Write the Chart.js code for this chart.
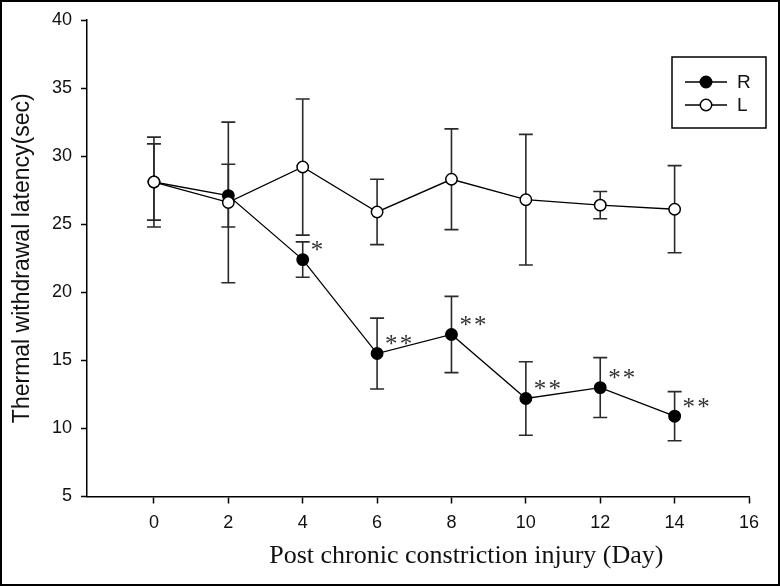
<!DOCTYPE html>
<html>
<head>
<meta charset="utf-8">
<script src="https://cdn.jsdelivr.net/npm/chart.js@4/dist/chart.umd.min.js"></script>
<style>
  html, body { margin: 0; padding: 0; background: #fff; }
  canvas { display: block; }
</style>
</head>
<body>
<canvas id="c" width="780" height="586"></canvas>
<script>
// ---- data ----
const days = [0, 2, 4, 6, 8, 10, 12, 14];
const rMean = [28.1, 27.1, 22.4, 15.5, 16.9, 12.2, 13.0, 10.9];
const rErr  = [2.8, 2.3, 1.3, 2.6, 2.8, 2.7, 2.2, 1.8];
const lMean = [28.1, 26.6, 29.2, 25.9, 28.3, 26.8, 26.4, 26.1];
const lErr  = [3.3, 5.9, 5.0, 2.4, 3.7, 4.8, 1.0, 3.2];
const rSig  = ['', '', '*', '**', '**', '**', '**', '**'];
const xTicks = [0, 2, 4, 6, 8, 10, 12, 14, 16];
const yTicks = [5, 10, 15, 20, 25, 30, 35, 40];
const xTitle = 'Post chronic constriction injury (Day)';
const yTitle = 'Thermal withdrawal latency(sec)';

const SANS = '"Liberation Sans", Arial, sans-serif';
const SERIF = '"Liberation Serif", "Times New Roman", serif';

const toPts = (m) => days.map((d, i) => ({ x: d, y: m[i] }));

const framePlugin = {
  id: 'frame',
  beforeDraw(chart) {
    const ctx = chart.ctx;
    ctx.save();
    ctx.fillStyle = '#fff';
    ctx.fillRect(0, 0, chart.width, chart.height);
    ctx.restore();
  },
  afterDraw(chart) {
    const ctx = chart.ctx;
    ctx.save();
    ctx.strokeStyle = '#000';
    ctx.lineWidth = 2;
    ctx.strokeRect(1, 1, chart.width - 2, chart.height - 2);
    // axis titles
    const ca = chart.chartArea;
    ctx.fillStyle = '#111';
    ctx.font = '26px ' + SERIF;
    ctx.textAlign = 'center';
    ctx.textBaseline = 'middle';
    ctx.fillText(xTitle, chart.scales.x.getPixelForValue(8.4), 556);
    ctx.translate(23, (ca.top + ca.bottom) / 2);
    ctx.rotate(-Math.PI / 2);
    ctx.font = '23px ' + SANS;
    ctx.fillText(yTitle, 0, 0);
    ctx.restore();
  }
};

const errorBarPlugin = {
  id: 'errorBars',
  beforeDatasetsDraw(chart) {
    const ctx = chart.ctx;
    const xs = chart.scales.x, ys = chart.scales.y;
    ctx.save();
    ctx.strokeStyle = '#2a2a2a';
    ctx.lineWidth = 1.6;
    chart.data.datasets.forEach((ds) => {
      ds.data.forEach((p, j) => {
        const e = ds.errors[j];
        const x = xs.getPixelForValue(p.x);
        const yt = ys.getPixelForValue(p.y + e);
        const yb = ys.getPixelForValue(p.y - e);
        ctx.beginPath();
        ctx.moveTo(x, yt); ctx.lineTo(x, yb);
        ctx.moveTo(x - 7, yt); ctx.lineTo(x + 7, yt);
        ctx.moveTo(x - 7, yb); ctx.lineTo(x + 7, yb);
        ctx.stroke();
      });
    });
    ctx.restore();
  },
  afterDatasetsDraw(chart) {
    const ctx = chart.ctx;
    const xs = chart.scales.x, ys = chart.scales.y;
    ctx.save();
    ctx.fillStyle = '#333';
    ctx.font = '25px ' + SERIF;
    ctx.textAlign = 'left';
    ctx.textBaseline = 'middle';
    rSig.forEach((s, j) => {
      if (!s) return;
      const x = xs.getPixelForValue(days[j]);
      const y = ys.getPixelForValue(rMean[j]);
      ctx.fillText(s.split('').join('\u200A'), x + 8, y - 8);
    });
    ctx.restore();
  }
};

const legendPlugin = {
  id: 'boxLegend',
  afterDraw(chart) {
    const ctx = chart.ctx;
    ctx.save();
    const bx = 672, by = 57, bw = 94, bh = 71;
    ctx.strokeStyle = '#000';
    ctx.lineWidth = 1.5;
    ctx.strokeRect(bx, by, bw, bh);
    const rows = [
      { y: 82, fill: '#000', label: chart.data.datasets[0].label },
      { y: 105, fill: '#fff', label: chart.data.datasets[1].label }
    ];
    rows.forEach((r) => {
      ctx.beginPath();
      ctx.lineWidth = 1.3;
      ctx.moveTo(685, r.y); ctx.lineTo(727, r.y);
      ctx.stroke();
      ctx.beginPath();
      ctx.arc(706, r.y, 5.7, 0, Math.PI * 2);
      ctx.fillStyle = r.fill;
      ctx.fill();
      ctx.lineWidth = 1.5;
      ctx.stroke();
      ctx.fillStyle = '#111';
      ctx.font = '19px ' + SANS;
      ctx.textAlign = 'left';
      ctx.textBaseline = 'middle';
      ctx.fillText(r.label, 737, r.y + 1);
    });
    ctx.restore();
  }
};

new Chart(document.getElementById('c'), {
  type: 'line',
  data: {
    datasets: [
      {
        label: 'R',
        data: toPts(rMean),
        errors: rErr,
        borderColor: '#000',
        borderWidth: 1.3,
        pointRadius: 5.7,
        pointBorderWidth: 1.5,
        pointBackgroundColor: '#000',
        pointBorderColor: '#000',
        fill: false,
        tension: 0,
        order: 2
      },
      {
        label: 'L',
        data: toPts(lMean),
        errors: lErr,
        borderColor: '#000',
        borderWidth: 1.3,
        pointRadius: 5.7,
        pointBorderWidth: 1.5,
        pointBackgroundColor: '#fff',
        pointBorderColor: '#000',
        fill: false,
        tension: 0,
        order: 1
      }
    ]
  },
  options: {
    responsive: false,
    animation: false,
    devicePixelRatio: 1,
    layout: { padding: { top: 20, right: 31, left: 0, bottom: 0 } },
    plugins: { legend: { display: false }, tooltip: { enabled: false } },
    scales: {
      x: {
        type: 'linear',
        min: -1.8,
        max: 16,
        afterBuildTicks: (s) => { s.ticks = xTicks.map((v) => ({ value: v })); },
        afterFit: (s) => { s.height = 89.5; },
        grid: { drawOnChartArea: false, tickLength: 7, tickColor: '#000', tickWidth: 1.5 },
        border: { color: '#000', width: 1.5 },
        ticks: { font: { family: SANS, size: 18 }, color: '#111', padding: 9, maxRotation: 0, autoSkip: false }
      },
      y: {
        type: 'linear',
        min: 5,
        max: 40,
        afterBuildTicks: (s) => { s.ticks = yTicks.map((v) => ({ value: v })); },
        afterFit: (s) => { s.width = 87; },
        grid: { drawOnChartArea: false, tickLength: 6, tickColor: '#000', tickWidth: 1.5 },
        border: { color: '#000', width: 1.5 },
        ticks: { font: { family: SANS, size: 18 }, color: '#111', padding: 9, autoSkip: false }
      }
    }
  },
  plugins: [framePlugin, errorBarPlugin, legendPlugin]
});
</script>
</body>
</html>
